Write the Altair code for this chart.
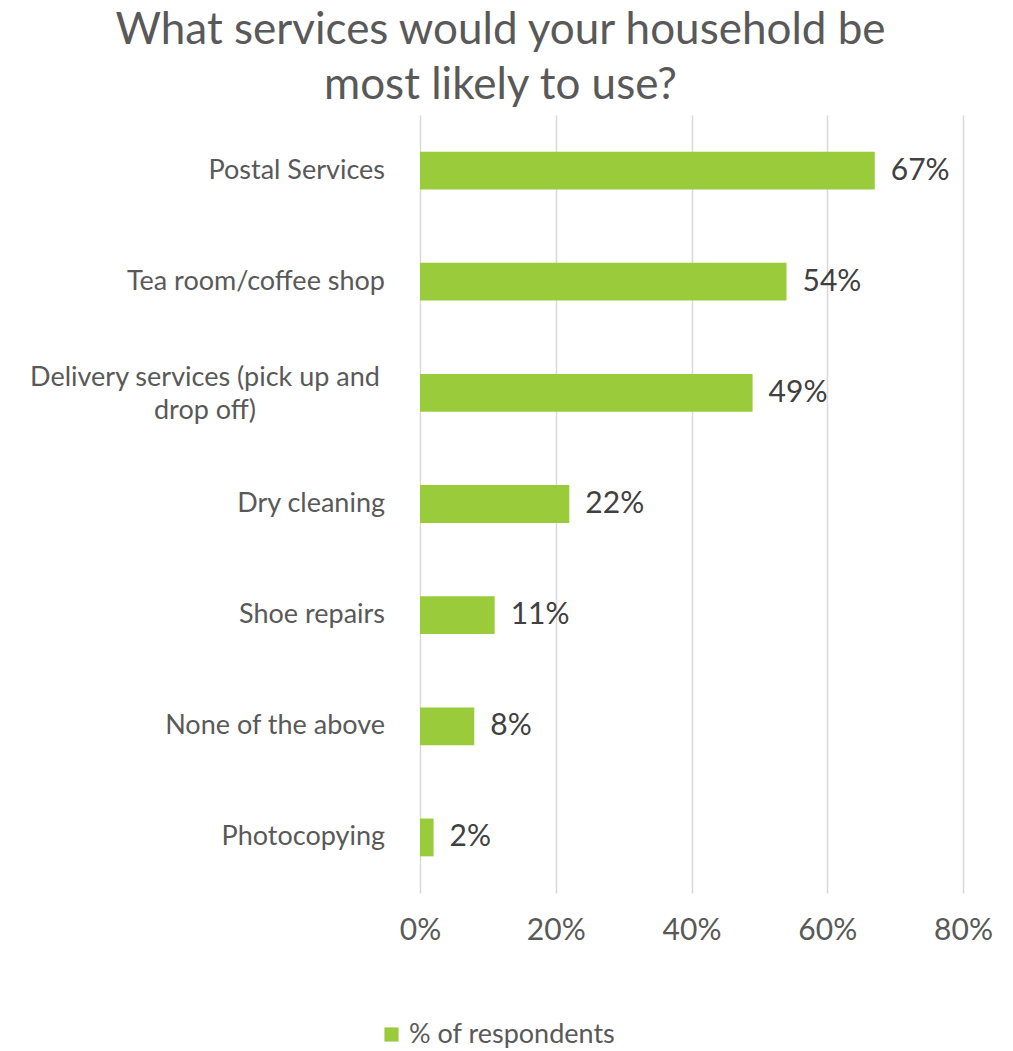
import altair as alt
import pandas as pd

categories = [
    "Postal Services",
    "Tea room/coffee shop",
    "Delivery services (pick up and drop off)",
    "Dry cleaning",
    "Shoe repairs",
    "None of the above",
    "Photocopying",
]
values = [0.67, 0.54, 0.49, 0.22, 0.11, 0.08, 0.02]
series_name = "% of respondents"
x_ticks = [0, 0.2, 0.4, 0.6, 0.8]
title_lines = ["What services would your household be", "most likely to use?"]

df = pd.DataFrame({"cat": categories, "value": values, "series": [series_name] * len(categories)})

FONT = "Lato"
GREEN = "#9ACB3A"

y_enc = alt.Y("cat:N", sort=categories,
              scale=alt.Scale(paddingInner=0.66, paddingOuter=0.33), axis=None)

base = alt.Chart(df)

bars = base.mark_bar(color=GREEN).encode(
    y=y_enc,
    x=alt.X("value:Q", scale=alt.Scale(domain=[0, 0.8]),
            axis=alt.Axis(format="%", values=x_ticks, grid=True, gridColor="#d9d9d9",
                          gridWidth=1.5, domain=False, ticks=False, labelPadding=22,
                          labelFontSize=30, labelColor="#595959", labelFont=FONT,
                          labelFlush=False, title=None)),
    color=alt.Color("series:N", scale=alt.Scale(range=[GREEN]),
                    legend=alt.Legend(orient="none", legendX=-42, legendY=906, title=None,
                                      symbolType="square", symbolSize=200,
                                      labelFontSize=27, labelColor="#595959",
                                      labelFont=FONT, labelLimit=500)),
)

value_labels = base.mark_text(align="left", baseline="middle", dx=16, fontSize=30,
                              color="#404040", font=FONT).encode(
    y=y_enc,
    x="value:Q",
    text=alt.Text("value:Q", format=".0%"),
)

cat_labels = base.transform_filter(
    alt.datum.cat != categories[2]
).mark_text(align="right", baseline="middle", fontSize=27, color="#595959", font=FONT).encode(
    y=y_enc,
    x=alt.value(-35),
    text="cat:N",
)

wrap_label = base.transform_filter(
    alt.datum.cat == categories[2]
).transform_calculate(
    lbl="['Delivery services (pick up and', 'drop off)']"
).mark_text(align="center", baseline="middle", fontSize=27, color="#595959", font=FONT,
            lineHeight=33, dy=-15).encode(
    y=y_enc,
    x=alt.value(-215),
    text="lbl:N",
)

chart = alt.layer(bars, value_labels, cat_labels, wrap_label).properties(
    width=543,
    height=778,
    title=alt.TitleParams(text=title_lines, fontSize=44, color="#595959", font=FONT,
                          fontWeight="normal", anchor="middle", dx=-191, lineHeight=55,
                          offset=7),
    autosize=alt.AutoSizeParams(type="none"),
    padding={"left": 420, "top": 115, "right": 50, "bottom": 158},
).configure(background="white").configure_view(stroke=None)

chart.save("out.html", embed_options={"renderer": "svg", "actions": False})
